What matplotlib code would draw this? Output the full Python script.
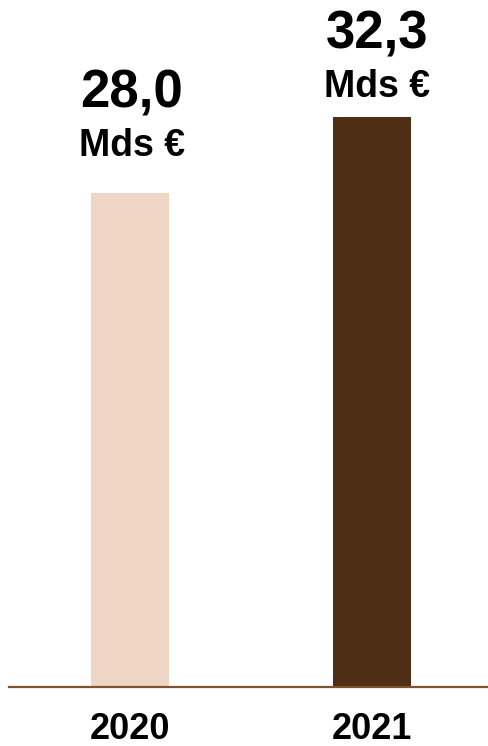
import matplotlib
matplotlib.use("Agg")
import matplotlib.pyplot as plt

# Data
years = ["2020", "2021"]
values = [28.0, 32.3]
value_labels = ["28,0", "32,3"]
unit_label = "Mds €"
bar_colors = ["#EFD5C4", "#4F2E16"]

plt.rcParams['font.family'] = ['Liberation Sans', 'DejaVu Sans']

fig = plt.figure(figsize=(4.88, 7.46), dpi=100)
ax = fig.add_axes([9 / 488, 59 / 746, 479 / 488, 687 / 746])

x = list(range(len(years)))
ax.bar(x, values, width=0.322, color=bar_colors, zorder=2)

ax.set_xlim(-0.5, 1.479)
ax.set_ylim(0, 38.94)

# label offsets (points) above each bar top: (dx, number dy, unit dy)
offsets = [(1.4, 61.9, 26.6), (3.6, 49.7, 14.4)]
for xi, v, lab, (dx, dy_num, dy_unit) in zip(x, values, value_labels, offsets):
    ax.annotate(lab, xy=(xi, v), xytext=(dx, dy_num), textcoords='offset points',
                ha='center', va='baseline', fontsize=38, fontweight='bold')
    ax.annotate(unit_label, xy=(xi, v), xytext=(dx, dy_unit), textcoords='offset points',
                ha='center', va='baseline', fontsize=27, fontweight='bold')

for side in ['top', 'right', 'left']:
    ax.spines[side].set_visible(False)
ax.spines['bottom'].set_color('#7B5530')
ax.spines['bottom'].set_linewidth(1.6)
ax.spines['bottom'].set_zorder(3)

ax.set_yticks([])
ax.set_xticks(x)
ax.set_xticklabels(years, fontsize=26, fontweight='bold')
ax.tick_params(axis='x', length=0, pad=18)

fig.savefig("out.png", dpi=100)
